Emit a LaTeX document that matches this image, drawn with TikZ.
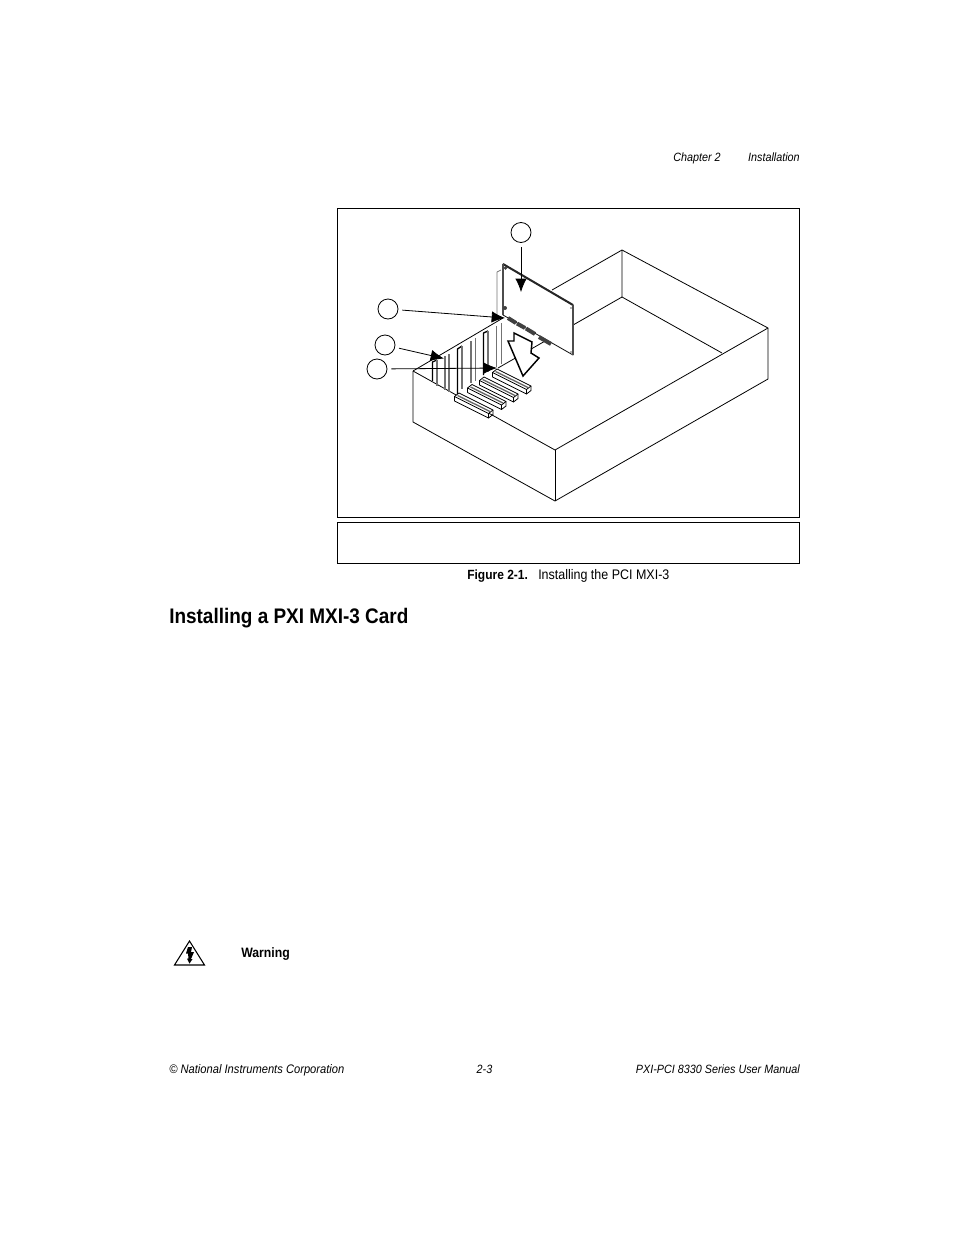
\documentclass[tikz,border=0pt]{standalone}
\usepackage{fontspec}
\setmainfont[FakeStretch=0.9]{Liberation Sans}
\usetikzlibrary{arrows.meta}
\tikzset{
    line/.style={black, line width=.6pt, line join=round},
    frame/.style={black, line width=.75pt},
    wing/.style={black!55, line width=1.3pt},
    callout/.style={circle, draw, line width=.6pt, minimum size=15pt, inner sep=0pt},
    pointer/.style={line width=.6pt, shorten <=3pt, -{Latex[length=10pt,width=8.5pt]}},
    page/.style={inner sep=0pt, font=\fontsize{9}{11}\selectfont\itshape},
    slotbar/.pic={
        \filldraw[line, fill=white] (0,0) -- (34,17) -- (29.5,20.5) -- (29.5,25) -- (-4.5,8) -- (-4.5,3.5) -- cycle;
        \draw[line] (-4.5,3.5) -- (29.5,20.5);
        \draw[line, black!60, line width=1pt] (-1.5,2.5) -- (31,18.5);
        \draw[line] (34,17) -- (34,21.5) -- (29.5,25);
    }
}
\begin{document}
\begin{tikzpicture}[x=.75pt, y=-.75pt]
    \useasboundingbox (0,0) rectangle (954,1235);
    % frames
    \draw[frame] (337,208.5) rectangle (799.5,517);
    \draw[frame] (337,522.5) rectangle (799.5,563.5);
    % chassis
    \draw[line] (413,371) -- (555,450) -- (768,328) -- (622,250) -- (552,290);
    \draw[line] (622,250) -- (622,297) -- (722,353);
    \draw[line] (622,297) -- (498,368);
    \draw[line] (413,371) -- (503,318);
    \draw[line] (413,371) -- (413,422) -- (555,501) -- (768,379) -- (768,328);
    \draw[line] (555,450) -- (555,501);
    % slots in the rear wall
    \draw[line, line width=.9pt] (432.5,381) -- (432.5,362) -- (437,360);
    \draw[wing] (437,360) -- (437,386);
    \draw[wing] (445,356) -- (445,390);
    \draw[wing] (449,354) -- (449,392);
    \draw[line, line width=1pt] (457.5,395) -- (457.5,349) -- (462,346);
    \draw[wing] (462,346) -- (462,389);
    \draw[wing] (471,341) -- (471,383);
    \draw[wing] (475.5,338) -- (475.5,381);
    \draw[line, line width=1pt] (483.5,375) -- (483.5,333) -- (488,331);
    \draw[wing] (488,331) -- (488,372);
    \draw[wing] (496.5,326) -- (496.5,367);
    \draw[wing] (501.5,323) -- (501.5,364);
    % connectors on the backplane
    \pic at (497,369) {slotbar};
    \pic at (484,377) {slotbar};
    \pic at (472,384.5) {slotbar};
    \pic at (459,393) {slotbar};
    % card with bracket
    \draw[line, black!55] (497,318) -- (497,272) -- (501,270);
    \filldraw[line, fill=white] (503,264) -- (573,305) -- (573,355) -- (503,315) -- cycle;
    \draw[black!85, line width=1.5pt] (503,264) -- (573,305);
    \draw[black!70, line width=1.4pt] (573,305) -- (573,355);
    \draw[black!70, line width=1.4pt] (503,264) -- (503,315);
    \fill[black!75] (505.5,268) circle (1.8);
    \fill[black!75] (505,308) circle (2);
    \fill[black!60] (571,308) circle (.8);
    \fill[black!60] (571,352) circle (.8);
    \draw[black!75, line width=3pt] (508,318) -- (516,323);
    \draw[black!75, line width=3pt] (517,323.5) -- (525,328);
    \draw[black!75, line width=3pt] (526,328.5) -- (535,334);
    \draw[black!75, line width=3pt] (539,337) -- (551,344);
    % insertion arrow
    \filldraw[black, line width=1.1pt, fill=white, line join=miter] (508,341) -- (514,341) -- (514,333) -- (532,342) -- (531,353) -- (539,358) -- (523,376) -- cycle;
    % callouts
    \node[callout] (callA) at (521,232.5) {};
    \node[callout] (callB) at (388,309) {};
    \node[callout] (callC) at (385,345) {};
    \node[callout] (callD) at (377,369) {};
    \coordinate (tipA) at (521,292);
    \coordinate (tipB) at (505,318);
    \coordinate (tipC) at (444,358.5);
    \coordinate (tipD) at (497,368);
    \draw[pointer] (callA) -- (tipA);
    \draw[pointer] (callB) -- (tipB);
    \draw[pointer] (callC) -- (tipC);
    \draw[pointer] (callD) -- (tipD);
    % warning sign
    \draw[line, line width=.8pt, line join=miter] (174.5,965) -- (189.5,941) -- (204.5,965) -- cycle;
    \fill[black] (188,947) -- (192,947) -- (191,952) -- (194,952) -- (191,959) -- (192.5,959) -- (189.5,963.5) -- (187,958.5) -- (188.5,958.5) -- (188,953.5) -- (186,953.5) -- cycle;
    % text
    \node[page, anchor=base east] (chap) at (721,161) {Chapter 2};
    \node[page, anchor=base east] (inst) at (800,161) {Installation};
    \node[page, anchor=base west, font=\fontsize{10}{12}\selectfont\bfseries] (figno) at (467,579.5) {Figure 2-1.};
    \node[page, anchor=base west, font=\fontsize{10.4}{12}\selectfont] (figcap) at (538,579.5) {Installing the PCI MXI-3};
    \node[page, anchor=base west, font=\fontsize{15.8}{20}\selectfont\bfseries] (sect) at (169,623) {Installing a PXI MXI-3 Card};
    \node[page, anchor=base west, font=\fontsize{10.2}{12}\selectfont\bfseries] (warn) at (241,957.5) {Warning};
    \node[page, anchor=base west, font=\fontsize{9.3}{11}\selectfont\itshape] (corp) at (169,1073) {\textcopyright{} National Instruments Corporation};
    \node[page, anchor=base] (pageno) at (484.5,1073) {2-3};
    \node[page, anchor=base east] (manual) at (800,1073) {PXI-PCI 8330 Series User Manual};
\end{tikzpicture}
\end{document}
